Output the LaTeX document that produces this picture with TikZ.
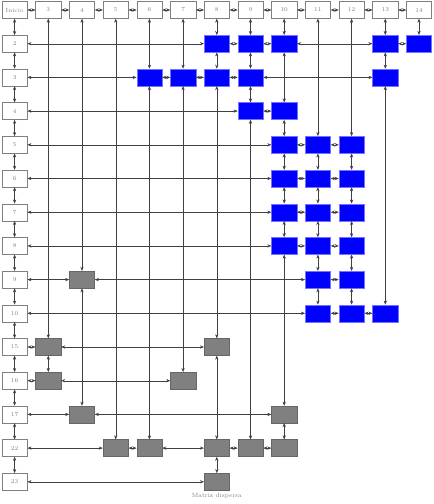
\documentclass[tikz,border=0pt]{standalone}
\usetikzlibrary{arrows.meta}
\begin{document}
\begin{tikzpicture}[x=33.7pt,y=-33.7pt,
  box/.style={draw, minimum width=25.3pt, minimum height=17pt, inner sep=0pt, font=\fontsize{6}{7}\selectfont},
  hdr/.style={box, draw=gray, fill=white, text=gray},
  nzb/.style={box, fill=blue, draw=blue!55},
  nzg/.style={box, fill=gray, draw=black!60},
  lnk/.style={draw=black!75, line width=0.4pt, {Stealth[length=4pt,width=3.2pt]}-{Stealth[length=4pt,width=3.2pt]}},
  captext/.style={font=\fontsize{6}{7}\selectfont, text=gray, inner sep=0pt}
]
\useasboundingbox (-14.6pt,10pt) rectangle (419.4pt,-494pt);
% header row
\node[hdr] (h0) at (0,0) {Inicio};
\foreach \c in {3,...,14} \node[hdr] (h\c) at ({\c-2},0) {\c};
% row heads
\foreach \r/\j in {2/1,3/2,4/3,5/4,6/5,7/6,8/7,9/8,10/9,15/10,16/11,17/12,22/13,23/14}
  \node[hdr] (r\r) at (0,\j) {\r};
% blue elements
\foreach \r/\j/\c in {2/1/8,2/1/9,2/1/10,2/1/13,2/1/14,
  3/2/6,3/2/7,3/2/8,3/2/9,3/2/13,
  4/3/9,4/3/10,
  5/4/10,5/4/11,5/4/12,
  6/5/10,6/5/11,6/5/12,
  7/6/10,7/6/11,7/6/12,
  8/7/10,8/7/11,8/7/12,
  9/8/11,9/8/12,
  10/9/11,10/9/12,10/9/13}
  \node[nzb] (e\r-\c) at ({\c-2},\j) {};
% grey elements
\foreach \r/\j/\c in {9/8/4,15/10/3,15/10/8,16/11/3,16/11/7,17/12/4,17/12/10,
  22/13/5,22/13/6,22/13/8,22/13/9,22/13/10,23/14/8}
  \node[nzg] (e\r-\c) at ({\c-2},\j) {};
\node[captext, anchor=north] (cp) at ([yshift=-2.5pt]e23-8.south) {Matriz dispersa};
% header links
\draw[lnk] (h0) -- (h3);
\foreach \a/\b in {3/4,4/5,5/6,6/7,7/8,8/9,9/10,10/11,11/12,12/13,13/14}
  \draw[lnk] (h\a) -- (h\b);
% row head links
\draw[lnk] (h0) -- (r2);
\foreach \a/\b in {2/3,3/4,4/5,5/6,6/7,7/8,8/9,9/10,10/15,15/16,16/17,17/22,22/23}
  \draw[lnk] (r\a) -- (r\b);
% row links
\foreach \a/\b in {r2/e2-8,e2-8/e2-9,e2-9/e2-10,e2-10/e2-13,e2-13/e2-14,
  r3/e3-6,e3-6/e3-7,e3-7/e3-8,e3-8/e3-9,e3-9/e3-13,
  r4/e4-9,e4-9/e4-10,
  r5/e5-10,e5-10/e5-11,e5-11/e5-12,
  r6/e6-10,e6-10/e6-11,e6-11/e6-12,
  r7/e7-10,e7-10/e7-11,e7-11/e7-12,
  r8/e8-10,e8-10/e8-11,e8-11/e8-12,
  r9/e9-4,e9-4/e9-11,e9-11/e9-12,
  r10/e10-11,e10-11/e10-12,e10-12/e10-13,
  r15/e15-3,e15-3/e15-8,
  r16/e16-3,e16-3/e16-7,
  r17/e17-4,e17-4/e17-10,
  r22/e22-5,e22-5/e22-6,e22-6/e22-8,e22-8/e22-9,e22-9/e22-10,
  r23/e23-8}
  \draw[lnk] (\a) -- (\b);
% column links
\foreach \a/\b in {h3/e15-3,e15-3/e16-3,
  h4/e9-4,e9-4/e17-4,
  h5/e22-5,
  h6/e3-6,e3-6/e22-6,
  h7/e3-7,e3-7/e16-7,
  h8/e2-8,e2-8/e3-8,e3-8/e15-8,e15-8/e22-8,e22-8/e23-8,
  h9/e2-9,e2-9/e3-9,e3-9/e4-9,e4-9/e22-9,
  h10/e2-10,e2-10/e4-10,e4-10/e5-10,e5-10/e6-10,e6-10/e7-10,e7-10/e8-10,e8-10/e17-10,e17-10/e22-10,
  h11/e5-11,e5-11/e6-11,e6-11/e7-11,e7-11/e8-11,e8-11/e9-11,e9-11/e10-11,
  h12/e5-12,e5-12/e6-12,e6-12/e7-12,e7-12/e8-12,e8-12/e9-12,e9-12/e10-12,
  h13/e2-13,e2-13/e3-13,e3-13/e10-13,
  h14/e2-14}
  \draw[lnk] (\a) -- (\b);
\end{tikzpicture}
\end{document}
